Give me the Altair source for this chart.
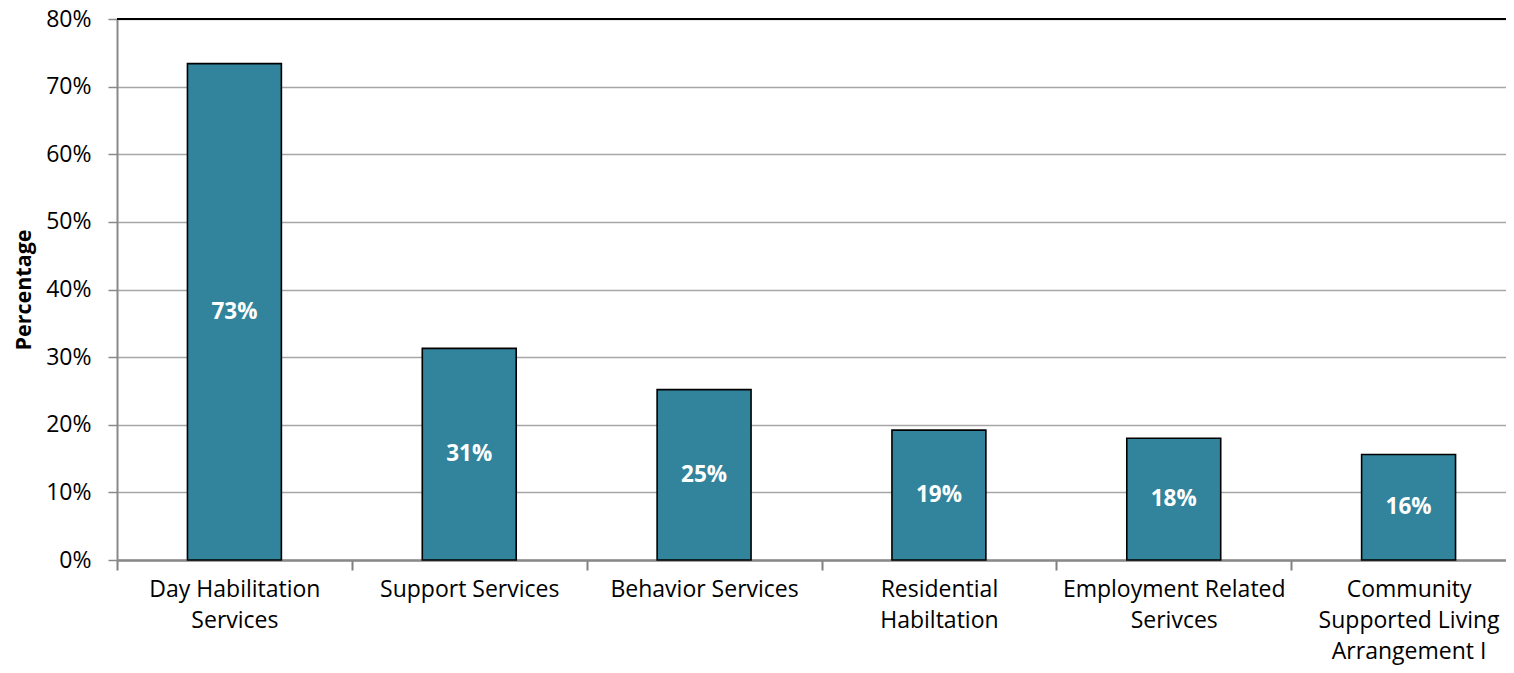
import altair as alt
import pandas as pd

categories = [
    "Day Habilitation|Services",
    "Support Services",
    "Behavior Services",
    "Residential|Habiltation",
    "Employment Related|Serivces",
    "Community|Supported Living|Arrangement I",
]
values = [73.4, 31.3, 25.2, 19.2, 18.0, 15.6]

df = pd.DataFrame({"cat": categories, "val": values})

FONT = "Open Sans"
BAR = "#31849B"
GRID = "#A6A6A6"
STEP = 1409 / len(categories)

x_scale = alt.Scale(range=[0, 1409], paddingInner=0.6, paddingOuter=0.3)

x = alt.X(
    "cat:N",
    sort=categories,
    title=None,
    scale=x_scale,
    axis=alt.Axis(
        labelAngle=0,
        labelExpr="split(datum.label, '|')",
        labelFont=FONT,
        labelFontSize=23,
        labelColor="#000000",
        labelLineHeight=31,
        labelPadding=8,
        labelBaseline="top",
        labelLimit=0,
        ticks=True,
        tickOffset=-STEP / 2,
        labelOffset=STEP / 2,
        tickColor="#808080",
        tickWidth=2,
        tickSize=10,
        domainColor="#898989",
        domainWidth=2.5,
        grid=False,
    ),
)

y_scale = alt.Scale(domain=[0, 80], nice=False)

bars = alt.Chart(df).mark_bar(
    color=BAR, stroke="#000000", strokeWidth=1.6
).encode(
    x=x,
    y=alt.Y(
        "val:Q",
        scale=y_scale,
        title="Percentage",
        axis=alt.Axis(
            values=[0, 10, 20, 30, 40, 50, 60, 70, 80],
            labelExpr="datum.value + '%'",
            labelFont=FONT,
            labelFontSize=23,
            labelColor="#000000",
            labelPadding=17,
            tickColor="#898989",
            tickWidth=1.5,
            tickSize=9,
            domainColor="#898989",
            domainWidth=2,
            gridColor=GRID,
            gridWidth=1.6,
            titleFont=FONT,
            titleFontSize=21.5,
            titleFontWeight="bold",
            titleColor="#000000",
            titlePadding=10,
        ),
    ),
)

labels = alt.Chart(df).transform_calculate(
    mid="datum.val / 2",
    txt="format(datum.val, '.0f') + '%'",
).mark_text(
    font=FONT, fontSize=22.5, fontWeight="bold", color="#FFFFFF", baseline="middle"
).encode(
    x=alt.X("cat:N", sort=categories),
    y=alt.Y("mid:Q", scale=y_scale),
    text="txt:N",
)

top_line = alt.Chart(pd.DataFrame({"v": [80]})).mark_rule(
    color="#000000", strokeWidth=2
).encode(y=alt.Y("v:Q", scale=y_scale))

chart = (
    alt.layer(bars, labels, top_line)
    .properties(
        width=1389,
        height=541,
        autosize=alt.AutoSizeParams(type="none"),
        padding={"left": 109, "top": 11, "right": 0, "bottom": 105},
    )
    .configure_view(stroke=None)
)

chart.save("out.html", embed_options={"renderer": "svg", "actions": False})
